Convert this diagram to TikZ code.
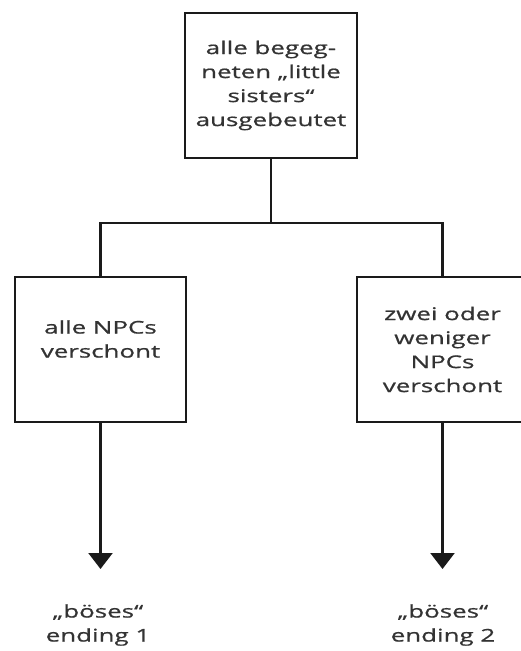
\documentclass[tikz,border=0pt]{standalone}
\usepackage{fontspec}
\setmainfont{Open Sans}[FakeStretch=1.48,FakeBold=0.8]
\usetikzlibrary{arrows.meta}
\definecolor{ink}{HTML}{1A1A1A}
\definecolor{textgray}{HTML}{333333}
\newcommand\flowfont{\fontsize{17.5}{24}\selectfont}
\tikzset{
  box/.style={draw=ink, line width=2.2pt, minimum width=171pt, minimum height=145pt,
              inner sep=0pt, align=center, font=\flowfont, text=textgray},
  lbl/.style={align=center, font=\flowfont, text=textgray, inner sep=0pt},
  link/.style={draw=ink, line width=2.2pt},
  outcome/.style={link, -{Triangle[width=24pt,length=16pt]}}
}
\begin{document}
\begin{tikzpicture}[x=1pt,y=-1pt]
  \useasboundingbox (0,0) rectangle (521,651);
  \clip (0,0) rectangle (521,651);

  % decision boxes
  \node[box, minimum width=172pt] (top) at (271,85.5)
    {alle begeg-\\neten „little\\sisters“\\ausgebeutet};
  \node[box] (left) at (100.5,349.5) {};
  \node[lbl] (lefttext) at (100.5,339) {alle NPCs\\verschont};
  \node[box] (right) at (442.5,349.5) {zwei oder\\weniger\\NPCs\\verschont};

  % branching from the top box
  \coordinate (split) at (271,223);
  \draw[link] (top.south) -- (split);
  \draw[link] (split) -| (left.north);
  \draw[link] (split) -| (right.north);

  % outcomes
  \coordinate (tip1) at (100.5,569);
  \coordinate (tip2) at (442.5,569);
  \draw[outcome] (left.south) -- (tip1);
  \draw[outcome] (right.south) -- (tip2);
  \node[lbl] (end1) at (98,625) {„böses“\\ending 1};
  \node[lbl] (end2) at (443,625) {„böses“\\ending 2};
\end{tikzpicture}
\end{document}
